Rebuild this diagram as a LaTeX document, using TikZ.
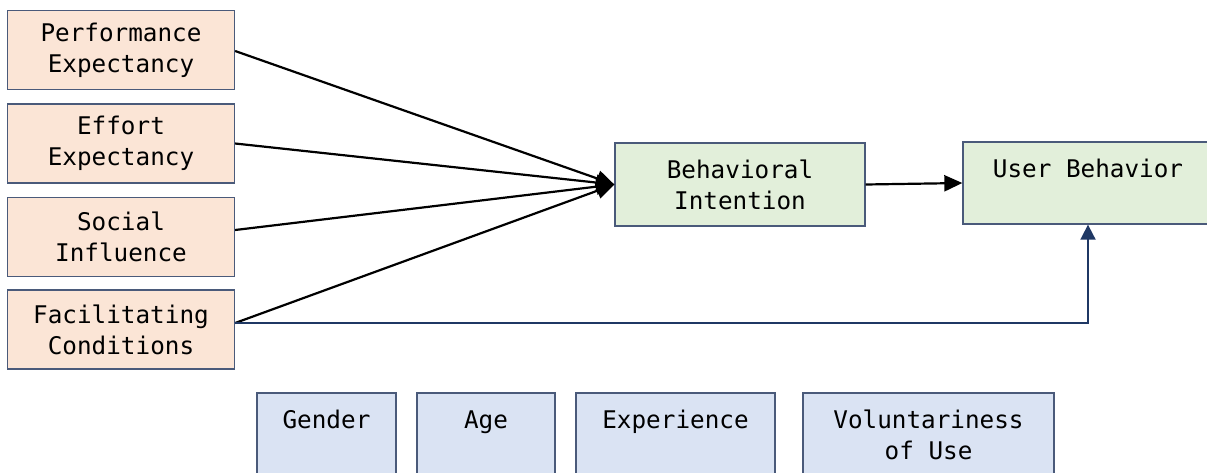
\documentclass[tikz,border=0pt]{standalone}
\usepackage{fontspec}
\setmonofont{DejaVu Sans Mono}
\usetikzlibrary{arrows.meta}
\definecolor{orangefill}{HTML}{FBE5D6}
\definecolor{greenfill}{HTML}{E2EFDA}
\definecolor{bluefill}{HTML}{DAE3F3}
\definecolor{boxborder}{HTML}{4A5A7A}
\definecolor{navyline}{HTML}{1F3864}
\tikzset{
  basebox/.style={draw=boxborder, line width=1.3pt, inner sep=0pt, font=\ttfamily\fontsize{24.3}{31}\selectfont, align=center},
  leftbox/.style={basebox, fill=orangefill, minimum width=227pt, minimum height=79pt},
  greenbox/.style={basebox, fill=greenfill, minimum width=250pt, minimum height=83pt},
  modbox/.style={basebox, fill=bluefill, minimum height=110pt},
  lbl/.style={inner sep=0pt, anchor=base, font=\ttfamily\fontsize{24.3}{31}\selectfont, align=center},
  blackarrow/.style={line width=2.2pt, black, -{Triangle[length=18pt,width=16pt]}},
  navyarrow/.style={line width=1.8pt, navyline, -{Triangle[length=15pt,width=15pt]}}
}
\begin{document}
\begin{tikzpicture}[x=1pt,y=-1pt]
\clip (0,0) rectangle (1207,472);
\fill[white] (0,0) rectangle (1207,472);
% left boxes
\node[leftbox] (PE) at (121,50) {Performance\\Expectancy};
\node[leftbox] (EE) at (121,143.5) {Effort\\Expectancy};
\node[leftbox] (SI) at (121,237) {Social\\Influence};
\node[leftbox] (FC) at (121,329.5) {Facilitating\\Conditions};
% green boxes
\node[greenbox] (BI) at (740,184.5) {Behavioral\\Intention};
\node[greenbox, minimum height=82pt] (UB) at (1088,183) {};
\node[lbl] (UBt) at (1088,177) {User Behavior};
% moderator boxes
\node[modbox, minimum width=139pt] (GE) at (326.5,448) {};
\node[modbox, minimum width=138pt] (AG) at (486,448) {};
\node[modbox, minimum width=199pt] (EX) at (675.5,448) {};
\node[modbox, minimum width=251pt] (VO) at (928.5,448) {};
\node[lbl] (GEt) at (326.5,428) {Gender};
\node[lbl] (AGt) at (486,428) {Age};
\node[lbl] (EXt) at (675.5,428) {Experience};
\node[lbl] (VOt) at (928.5,428) {Voluntariness};
\node[lbl] (VOt2) at (928.5,459) {of Use};
% connectors
\draw[blackarrow] ([yshift=-1pt]PE.east) -- (BI.west);
\draw[blackarrow] (EE.east) -- (BI.west);
\draw[blackarrow] ([yshift=7pt]SI.east) -- (BI.west);
\draw[blackarrow] ([yshift=6.5pt]FC.east) -- (BI.west);
\draw[blackarrow] (BI.east) -- (UB.west);
\draw[navyarrow] ([yshift=6.5pt]FC.east) -| (UB.south);
\end{tikzpicture}
\end{document}
